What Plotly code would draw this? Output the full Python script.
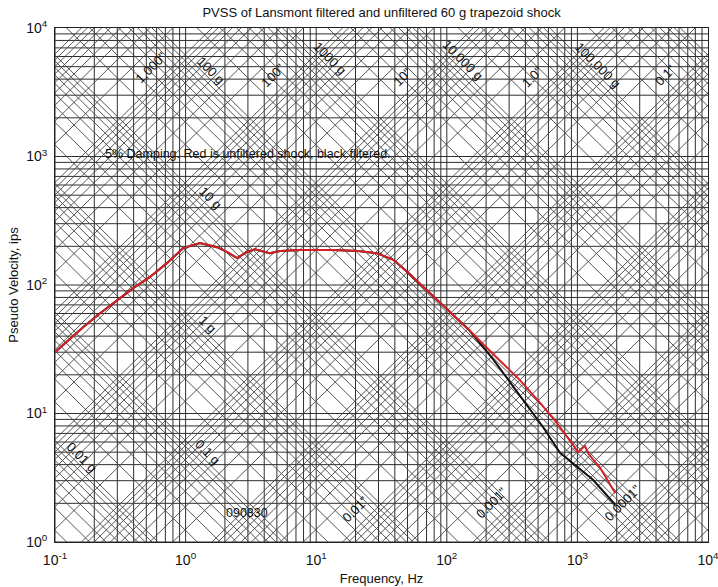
import numpy as np
import plotly.graph_objects as go

# ---- PVSS curves (5 % damping), frequency in Hz, pseudo velocity in in/s ----
unfiltered_freq_hz = [0.1, 0.164, 0.22, 0.3, 0.4, 0.53, 0.72, 0.96, 1.29, 1.74, 2.07,
                      2.48, 2.95, 3.4, 3.9, 4.4, 5.3, 7.5, 13.5, 21, 29, 39, 50, 70,
                      90, 126, 148, 226, 363, 518, 698, 925, 1011, 1143, 1205, 1489, 1950]
unfiltered_pv_ips = [30, 47, 60, 76, 95, 115, 148, 194, 212, 197, 181,
                     162, 181, 190, 184, 177, 184, 187, 187, 184, 177, 157, 126, 91,
                     71, 52, 44.6, 29, 18.2, 12.1, 8.4, 5.7, 5.0, 5.6, 4.9, 3.8, 2.4]

filtered_freq_hz = [0.1, 0.164, 0.22, 0.3, 0.4, 0.53, 0.72, 0.96, 1.29, 1.74, 2.07,
                    2.48, 2.95, 3.4, 3.9, 4.4, 5.3, 7.5, 13.5, 21, 29, 39, 50, 70,
                    90, 126, 148, 226, 305, 411, 545, 736, 993, 1316, 1950]
filtered_pv_ips = [30, 47, 60, 76, 95, 115, 148, 194, 212, 197, 181,
                   162, 181, 190, 184, 177, 184, 187, 187, 184, 177, 157, 126, 91,
                   71, 52, 44.6, 26.5, 17.5, 11.6, 7.85, 4.95, 3.85, 3.05, 1.95]

# ---- tripartite paper labels ----
accel_label_g = [100, 1000, 10000, 100000, 10, 1, 0.1, 0.01]
accel_label_text = ["100 g", "1000 g", "10,000 g", "100,000 g", "10 g", "1 g", "0.1 g", "0.01 g"]
disp_label_in = [1000, 100, 10, 1, 0.1, 0.01, 0.001, 0.0001]
disp_label_text = ['1,000"', '100"', '10"', '1.0"', '0.1"', '0.01"', '0.001"', '0.0001"']

x_tick_vals = [0.1, 1, 10, 100, 1000, 10000]
x_tick_text = ["10<sup>-1</sup>", "10<sup>0</sup>", "10<sup>1</sup>",
               "10<sup>2</sup>", "10<sup>3</sup>", "10<sup>4</sup>"]
y_tick_vals = [1, 10, 100, 1000, 10000]
y_tick_text = ["10<sup>0</sup>", "10<sup>1</sup>", "10<sup>2</sup>",
               "10<sup>3</sup>", "10<sup>4</sup>"]

G_IPS2 = 386.09          # 1 g in in/s^2
F_MIN, F_MAX = 0.1, 1e4
V_MIN, V_MAX = 1.0, 1e4
FONT = "Liberation Sans, Arial, sans-serif"

fig = go.Figure()


def seg_trace(xs, ys, color, width):
    return go.Scatter(x=xs, y=ys, mode="lines", hoverinfo="skip", showlegend=False,
                      line=dict(color=color, width=width))


# log grid: 1..9 per decade, vertical and horizontal
gx, gy = [], []
for k in range(-1, 4):
    for m in range(1, 10):
        f = m * 10.0 ** k
        gx += [f, f, None]
        gy += [V_MIN, V_MAX, None]
for k in range(0, 4):
    for m in range(1, 10):
        v = m * 10.0 ** k
        gx += [F_MIN, F_MAX, None]
        gy += [v, v, None]
fig.add_trace(seg_trace(gx, gy, "#2e2e2e", 1))

# diagonal lines: constant acceleration (V = A g / 2 pi f) and displacement (V = 2 pi f D)
f_lo, f_hi = 0.01, 1e5
ax_, ay_ = [], []
for k in range(-4, 8):
    for m in range(1, 10):
        a = m * 10.0 ** k * G_IPS2
        ax_ += [f_lo, f_hi, None]
        ay_ += [a / (2 * np.pi * f_lo), a / (2 * np.pi * f_hi), None]
dx_, dy_ = [], []
for k in range(-6, 6):
    for m in range(1, 10):
        d = m * 10.0 ** k
        dx_ += [f_lo, f_hi, None]
        dy_ += [2 * np.pi * f_lo * d, 2 * np.pi * f_hi * d, None]
fig.add_trace(seg_trace(ax_, ay_, "#444444", 0.9))
fig.add_trace(seg_trace(dx_, dy_, "#444444", 0.9))

# response spectra
fig.add_trace(go.Scatter(x=filtered_freq_hz, y=filtered_pv_ips, mode="lines",
                         name="filtered", line=dict(color="#111111", width=2)))
fig.add_trace(go.Scatter(x=unfiltered_freq_hz, y=unfiltered_pv_ips, mode="lines",
                         name="unfiltered", line=dict(color="#d42027", width=2)))

annotations = []
# where each diagonal label sits along its line
accel_label_freq = [1.565, 12.76, 133, 1439, 1.538, 1.484, 1.484, 0.161]
disp_label_freq = [0.543, 4.67, 45.4, 457, 4688, 19.8, 222, 2234]
label_font = dict(family=FONT, size=13, color="#111111")
for g, txt, f in zip(accel_label_g, accel_label_text, accel_label_freq):
    v = g * G_IPS2 / (2 * np.pi * f) * 1.2
    annotations.append(dict(x=np.log10(f), y=np.log10(v), xref="x", yref="y", text=txt,
                            textangle=45, showarrow=False, font=label_font))
for d, txt, f in zip(disp_label_in, disp_label_text, disp_label_freq):
    v = 2 * np.pi * f * d * 1.45
    annotations.append(dict(x=np.log10(f), y=np.log10(v), xref="x", yref="y", text=txt,
                            textangle=-45, showarrow=False, font=label_font))

annotations.append(dict(x=0.0735, y=0.772, xref="paper", yref="paper", xanchor="left",
                        text="5% Damping. Red is unfiltered shock, black filtered.",
                        showarrow=False, font=dict(family=FONT, size=12.5, color="#111111")))
annotations.append(dict(x=0.259, y=0.039, xref="paper", yref="paper",
                        text="090830", showarrow=False,
                        font=dict(family=FONT, size=12.5, color="#111111")))

fig.update_layout(
    width=718, height=587,
    margin=dict(l=55, r=10, t=28, b=45),
    paper_bgcolor="white", plot_bgcolor="white",
    showlegend=False, hovermode=False,
    font=dict(family=FONT, size=13, color="#111111"),
    title=dict(text="PVSS of Lansmont filtered and unfiltered 60 g trapezoid shock",
               x=0.5315, xanchor="center", y=0.979, yanchor="middle",
               font=dict(family=FONT, size=13, color="#111111")),
    annotations=annotations,
    xaxis=dict(type="log", range=[np.log10(F_MIN), np.log10(F_MAX)], automargin=False,
               showgrid=False, zeroline=False, showline=True, mirror=True,
               linecolor="#222222", linewidth=1, ticks="",
               tickvals=x_tick_vals, ticktext=x_tick_text, ticklabelstandoff=5,
               ticklabeloverflow="allow",
               tickfont=dict(family=FONT, size=14),
               title=dict(text="Frequency, Hz", standoff=7,
                          font=dict(family=FONT, size=13))),
    yaxis=dict(type="log", range=[np.log10(V_MIN), np.log10(V_MAX)], automargin=False,
               showgrid=False, zeroline=False, showline=True, mirror=True,
               linecolor="#222222", linewidth=1, ticks="",
               tickvals=y_tick_vals, ticktext=y_tick_text, ticklabelstandoff=4,
               ticklabeloverflow="allow",
               tickfont=dict(family=FONT, size=14),
               title=dict(text="Pseudo Velocity, ips", standoff=4,
                          font=dict(family=FONT, size=13))),
)

fig.write_html("out.html")
